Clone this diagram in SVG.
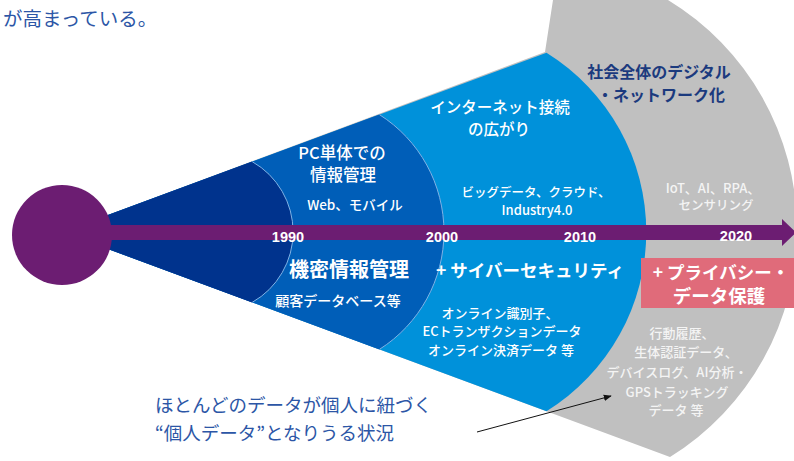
<svg xmlns="http://www.w3.org/2000/svg" width="794" height="461" viewBox="0 0 794 461">
<defs>
<style>
.t{font-family:"Noto Sans CJK JP","Noto Sans",sans-serif;text-anchor:middle;fill:#fff;font-weight:500}
.b{font-weight:bold}
.yr{font-family:"Liberation Sans","Noto Sans",sans-serif;font-weight:bold;font-size:14.5px;fill:#fff;text-anchor:middle}
.blue{fill:#2C56A6;text-anchor:start;font-weight:normal}
.g{fill:#F4F4F4}
.arc{fill:none;stroke:#7FB2E5;stroke-width:1}
</style>
<marker id="ah" viewBox="0 0 10 10" refX="9" refY="5" markerWidth="8" markerHeight="8" orient="auto" markerUnits="userSpaceOnUse"><path d="M0,1 L10,5 L0,9 Z" fill="#111"/></marker>
</defs>
<rect width="794" height="461" fill="#fff"/>
<text class="t blue" x="3" y="26" font-size="19.5">が高まっている。</text>
<g id="sector-2020">
<path d="M62,232 L545,52 L553,0 L668,0 A268,268 0 0 1 670,457 Z" fill="#C0C0C0"/>
</g>
<g id="sector-2010">
<path d="M62,232 L546.5,52.7 A211,211 0 0 1 546.5,411.3 Z" fill="#0091DA"/>
</g>
<g id="sector-2000">
<path d="M62,232 L379.4,114.6 A139,139 0 0 1 379.4,349.4 Z" fill="#005EB8"/>
<path class="arc" d="M379.4,114.6 A139,139 0 0 1 379.4,349.4"/>
</g>
<g id="sector-1990">
<path d="M62,232 L252.15,161.6 A81,81 0 0 1 252.15,302.4 Z" fill="#00338D"/>
<path class="arc" d="M252.15,161.6 A81,81 0 0 1 252.15,302.4"/>
</g>
<g id="timeline">
<circle cx="62" cy="235" r="50" fill="#6C1D72"/>
<rect x="62" y="225" width="722" height="15" fill="#6C1D72"/>
<polygon points="782,219 796,232.5 782,246" fill="#6C1D72"/>
<text class="yr" x="288" y="242">1990</text>
<text class="yr" x="442" y="242">2000</text>
<text class="yr" x="580" y="242">2010</text>
<text class="yr" x="736" y="241">2020</text>
</g>
<g id="label-1990">
<text class="t" x="342" y="159" font-size="16.5">PC単体での</text>
<text class="t" x="343" y="181" font-size="16.5">情報管理</text>
<text class="t" x="355" y="210" font-size="13.5">Web、モバイル</text>
<text class="t b" x="349" y="277" font-size="20">機密情報管理</text>
<text class="t" x="338" y="306" font-size="14">顧客データベース等</text>
</g>
<g id="label-2000">
<text class="t" x="500" y="113" font-size="15.5">インターネット接続</text>
<text class="t" x="499" y="135" font-size="15.5">の広がり</text>
<text class="t" x="536" y="197" font-size="12.5">ビッグデータ、クラウド、</text>
<text class="t" x="537" y="215" font-size="13">Industry4.0</text>
<text class="t b" x="530" y="277" font-size="17.5">+ サイバーセキュリティ</text>
<text class="t" x="500" y="318" font-size="13">オンライン識別子、</text>
<text class="t" x="502" y="336" font-size="13">ECトランザクションデータ</text>
<text class="t" x="501" y="355" font-size="13">オンライン決済データ 等</text>
</g>
<g id="label-2020">
<text class="t b" x="659" y="78" font-size="16" style="fill:#1B3A7E">社会全体のデジタル</text>
<text class="t b" x="661" y="101" font-size="16" style="fill:#1B3A7E">・ネットワーク化</text>
<text class="t g" x="713" y="193" font-size="13">IoT、AI、RPA、</text>
<text class="t g" x="716" y="210" font-size="12.5">センサリング</text>
<rect x="641" y="258" width="153" height="50" fill="#E06B7A"/>
<text class="t b" x="721" y="279" font-size="17.5">+ プライバシー・</text>
<text class="t b" x="719" y="303" font-size="18.5">データ保護</text>
<text class="t g" x="682" y="338" font-size="13">行動履歴、</text>
<text class="t g" x="686" y="357" font-size="13">生体認証データ、</text>
<text class="t g" x="677" y="377" font-size="13">デバイスログ、AI分析・</text>
<text class="t g" x="677" y="397" font-size="13">GPSトラッキング</text>
<text class="t g" x="676" y="415" font-size="13">データ 等</text>
</g>
<g id="note">
<text class="t blue" x="155" y="412" font-size="18.5">ほとんどのデータが個人に紐づく</text>
<text class="t blue" x="155" y="440" font-size="18.5">“個人データ”となりうる状況</text>
</g>
<g id="connectors">
<line x1="477" y1="432" x2="611" y2="396" stroke="#111" stroke-width="1" marker-end="url(#ah)"/>
</g>
</svg>
